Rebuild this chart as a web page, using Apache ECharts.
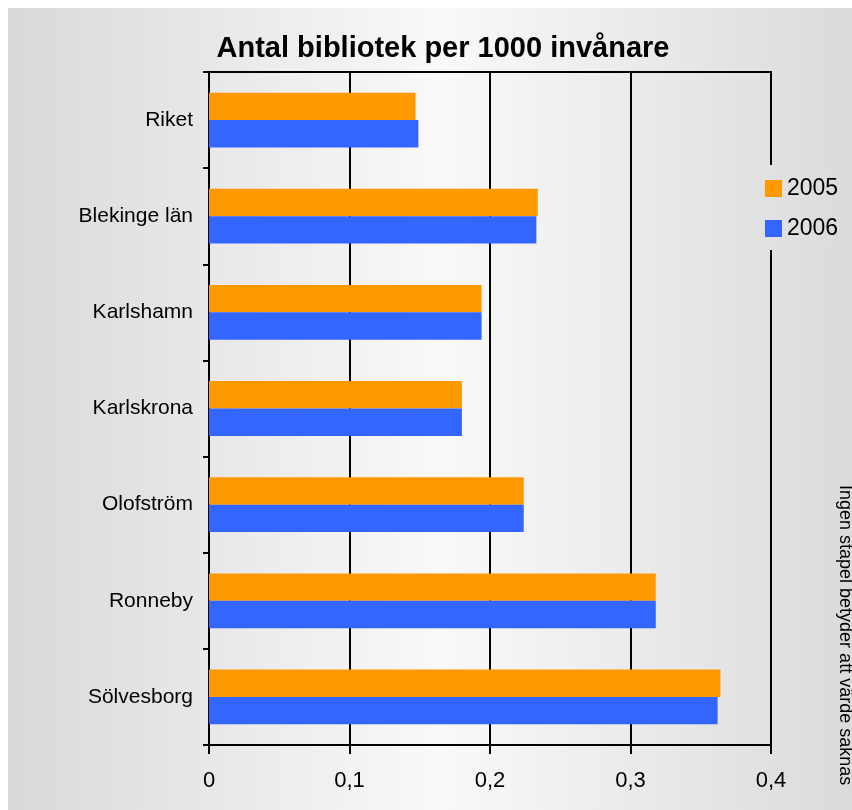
<!DOCTYPE html>
<html>
<head>
<meta charset="utf-8">
<script src="https://cdn.jsdelivr.net/npm/echarts@6/dist/echarts.min.js"></script>
<style>
html,body{margin:0;padding:0;background:#fff;}
#chart{width:852px;height:810px;}
</style>
</head>
<body>
<div id="chart"></div>
<script>
const categories = ['Riket', 'Blekinge län', 'Karlshamn', 'Karlskrona', 'Olofström', 'Ronneby', 'Sölvesborg'];
const series2005 = [0.147, 0.234, 0.194, 0.180, 0.224, 0.318, 0.364];
const series2006 = [0.149, 0.233, 0.194, 0.180, 0.224, 0.318, 0.362];
const xTickLabels = ['0', '0,1', '0,2', '0,3', '0,4'];
const titleText = 'Antal bibliotek per 1000 invånare';
const noteText = 'Ingen stapel betyder att värde saknas';

const chart = echarts.init(document.getElementById('chart'));
const font = '"Liberation Sans", Arial, sans-serif';
chart.setOption({
  animation: false,
  backgroundColor: '#ffffff',
  graphic: [
    {
      type: 'rect', z: -10, silent: true,
      shape: { x: 8, y: 8, width: 864, height: 820 },
      style: {
        fill: new echarts.graphic.LinearGradient(0, 0, 1, 0, [
          { offset: 0, color: '#d9d9d9' },
          { offset: 0.5, color: '#f9f9f9' },
          { offset: 1, color: '#d9d9d9' }
        ])
      }
    },
    {
      type: 'text', x: 845, y: 485, rotation: -Math.PI / 2,
      style: { text: noteText, fontSize: 18, fontFamily: font, fill: '#000', textAlign: 'left', textVerticalAlign: 'middle' }
    }
  ],
  title: {
    text: titleText, left: 438, top: 29, textAlign: 'center',
    textStyle: { fontSize: 29, fontWeight: 'bold', fontFamily: font, color: '#000' }
  },
  legend: {
    orient: 'vertical', left: 755, top: 165,
    padding: [12, 10, 10, 10],
    backgroundColor: new echarts.graphic.LinearGradient(0, 0, 1, 0, [
      { offset: 0, color: '#e2e2e2' },
      { offset: 1, color: '#dbdbdb' }
    ]),
    itemWidth: 17, itemHeight: 17, itemGap: 17,
    icon: 'rect',
    textStyle: { fontSize: 23, fontFamily: font, color: '#000' },
    data: ['2005', '2006']
  },
  grid: {
    left: 209, top: 72, width: 562, height: 673,
    show: true, borderColor: '#000', borderWidth: 2, backgroundColor: 'transparent'
  },
  xAxis: {
    type: 'value', min: 0, max: 0.4, interval: 0.1,
    axisLine: { show: true, lineStyle: { color: '#000', width: 2 } },
    axisTick: { show: true, length: 9, lineStyle: { color: '#000', width: 2 } },
    splitLine: { show: true, lineStyle: { color: '#000', width: 2 } },
    axisLabel: {
      margin: 25, fontSize: 22, fontFamily: font, color: '#000',
      formatter: v => xTickLabels[Math.round(v * 10)]
    }
  },
  yAxis: {
    type: 'category', inverse: true, data: categories,
    axisLine: { show: true, lineStyle: { color: '#000', width: 2 } },
    axisTick: { show: true, length: 6, lineStyle: { color: '#000', width: 2 } },
    axisLabel: { margin: 16, fontSize: 21, fontFamily: font, color: '#000' }
  },
  series: [
    { name: '2005', type: 'bar', data: series2005, barGap: '0%', barCategoryGap: '43%', itemStyle: { color: '#FF9900' } },
    { name: '2006', type: 'bar', data: series2006, barGap: '0%', barCategoryGap: '43%', itemStyle: { color: '#3366FF' } }
  ]
});
</script>
</body>
</html>
